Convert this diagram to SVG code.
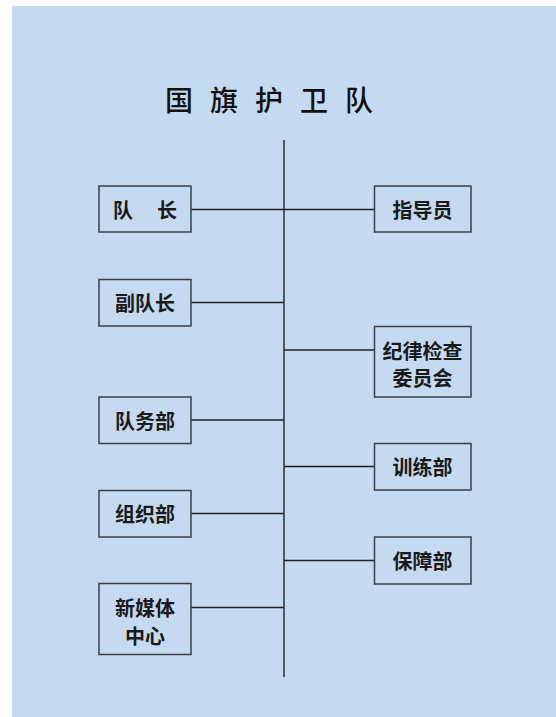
<svg xmlns="http://www.w3.org/2000/svg" width="556" height="717" viewBox="0 0 556 717">
<style>
.box{fill:#c5d9f0;stroke:#3a3f4a;stroke-width:1.5}
.ln{stroke:#1e2228;stroke-width:1.4;fill:none}
.t{font-family:"Noto Sans CJK SC","Noto Sans",sans-serif;font-size:20px;font-weight:bold;fill:#1a1a1a;text-anchor:middle;dominant-baseline:central}
.title{font-family:"Noto Sans CJK SC","Noto Sans",sans-serif;font-size:28px;font-weight:500;fill:#111;text-anchor:middle;dominant-baseline:central}
</style>
<rect x="0" y="0" width="556" height="717" fill="#ffffff"/>
<rect x="12" y="6" width="544" height="711" fill="#c5d9f0"/>
<text class="title" y="98.5"><tspan x="179">国</tspan><tspan x="224">旗</tspan><tspan x="269">护</tspan><tspan x="314">卫</tspan><tspan x="359">队</tspan></text>
<g id="connectors">
<line class="ln" x1="284" y1="140" x2="284" y2="677"/>
<line class="ln" x1="191" y1="209.5" x2="374" y2="209.5"/>
<line class="ln" x1="191" y1="302.5" x2="284" y2="302.5"/>
<line class="ln" x1="191" y1="420" x2="284" y2="420"/>
<line class="ln" x1="191" y1="513.5" x2="284" y2="513.5"/>
<line class="ln" x1="191" y1="607.5" x2="284" y2="607.5"/>
<line class="ln" x1="284" y1="350" x2="374" y2="350"/>
<line class="ln" x1="284" y1="466.5" x2="374" y2="466.5"/>
<line class="ln" x1="284" y1="560.5" x2="374" y2="560.5"/>
</g>
<g id="duizhang"><rect class="box" x="99" y="186" width="92" height="46"/><text class="t" y="209"><tspan x="123">队</tspan><tspan x="167">长</tspan></text></g>
<g id="fuduizhang"><rect class="box" x="99" y="279.5" width="92" height="46.5"/><text class="t" x="145" y="302.5">副队长</text></g>
<g id="duiwubu"><rect class="box" x="99" y="397" width="92" height="46.5"/><text class="t" x="145" y="420">队务部</text></g>
<g id="zuzhibu"><rect class="box" x="99" y="490.5" width="92" height="46.5"/><text class="t" x="145" y="513.5">组织部</text></g>
<g id="xinmeiti"><rect class="box" x="99" y="583.5" width="92" height="71"/><text class="t" x="145" y="607.5">新媒体</text><text class="t" x="145" y="635">中心</text></g>
<g id="zhidaoyuan"><rect class="box" x="374.5" y="186" width="96.5" height="46"/><text class="t" x="422.5" y="209">指导员</text></g>
<g id="jilv"><rect class="box" x="374.5" y="326.5" width="96.5" height="70.5"/><text class="t" x="422.5" y="350.5">纪律检查</text><text class="t" x="422.5" y="377.5">委员会</text></g>
<g id="xunlianbu"><rect class="box" x="374.5" y="443.5" width="96.5" height="46.5"/><text class="t" x="422.5" y="466.5">训练部</text></g>
<g id="baozhangbu"><rect class="box" x="374.5" y="537" width="96.5" height="47"/><text class="t" x="422.5" y="560.5">保障部</text></g>
</svg>
